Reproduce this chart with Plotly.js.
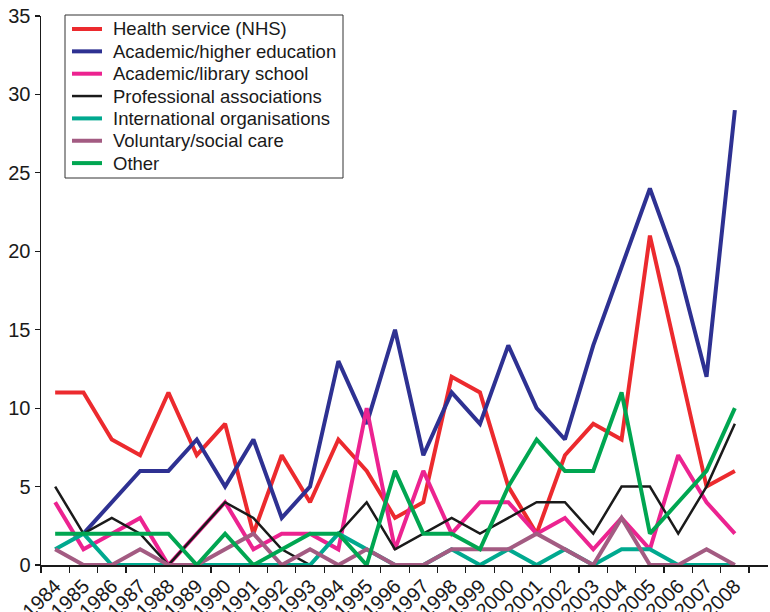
<!DOCTYPE html>
<html>
<head>
<meta charset="utf-8">
<script src="https://cdn.plot.ly/plotly-3.0.1.min.js"></script>
<style>html,body{margin:0;padding:0;background:#fff;}#chart{width:770px;height:612px;}</style>
</head>
<body>
<div id="chart"></div>
<script>
const years = [1984,1985,1986,1987,1988,1989,1990,1991,1992,1993,1994,1995,1996,1997,1998,1999,2000,2001,2002,2003,2004,2005,2006,2007,2008];
const tickLabels = years.map(String);

const healthNHS      = [11,11,8,7,11,7,9,2,7,4,8,6,3,4,12,11,5,2,7,9,8,21,13,5,6];
const academicHigher = [null,2,4,6,6,8,5,8,3,5,13,9,15,7,11,9,14,10,8,14,19,24,19,12,29];
const libSchool      = [4,1,2,3,0,2,4,1,2,2,1,10,1,6,2,4,4,2,3,1,3,1,7,4,2];
const professional   = [5,2,3,2,0,2,4,3,1,0,2,4,1,2,3,2,3,4,4,2,5,5,2,5,9];
const international  = [1,2,0,0,0,0,0,0,0,0,2,1,0,0,1,0,1,0,1,0,1,1,0,0,0];
const voluntary      = [1,0,0,1,0,0,1,2,0,1,0,1,0,0,1,1,1,2,1,0,3,0,0,1,0];
const other          = [2,2,2,2,2,0,2,0,1,2,2,0,6,2,2,1,5,8,6,6,11,2,4,6,10];

const seriesNames = ["Health service (NHS)","Academic/higher education","Academic/library school","Professional associations","International organisations","Voluntary/social care","Other"];
const seriesData = [healthNHS, academicHigher, libSchool, professional, international, voluntary, other];
const seriesColors = ["#ec2a2e","#2e3192","#ec2390","#1a1a1a","#00a98f","#a35b82","#00a651"];
const seriesWidths = [4,4,4,2.5,4,4,4];

const traces = seriesNames.map((n,i)=>({
  x: years, y: seriesData[i], name: n, type: 'scatter', mode: 'lines',
  line: {color: seriesColors[i], width: seriesWidths[i]},
  connectgaps: false, showlegend: false
}));

// Custom legend box (paper coordinates) to match the compact row spacing
const PW = 727, PH = 549, L = 41, B = 565;
const px = v => (v - L) / PW;
const py = v => (B - v) / PH;
const shapes = [{
  type: 'rect', xref: 'paper', yref: 'paper',
  x0: px(65), x1: px(343), y0: py(178), y1: py(15),
  line: {color: '#333', width: 1}, fillcolor: '#fff', layer: 'below'
}];
const annotations = [];
seriesNames.forEach((n,i)=>{
  const yc = 29 + 22.35 * i;
  shapes.push({type: 'line', xref: 'paper', yref: 'paper',
    x0: px(72), x1: px(102), y0: py(yc), y1: py(yc),
    line: {color: seriesColors[i], width: seriesWidths[i]}});
  annotations.push({xref: 'paper', yref: 'paper', x: px(111), y: py(yc),
    xanchor: 'left', yanchor: 'middle', showarrow: false, text: n,
    font: {size: 18.5, color: '#1a1a1a'}});
});

const layout = {
  width: 770, height: 612,
  margin: {l: 41, r: 2, t: 16, b: 47},
  paper_bgcolor: '#fff', plot_bgcolor: 'rgba(0,0,0,0)',
  font: {family: 'Liberation Sans, Arial, sans-serif', color: '#1a1a1a'},
  showlegend: false,
  shapes: shapes,
  annotations: annotations,
  xaxis: {
    range: [1983.5, 2009.17],
    tickmode: 'array', tickvals: years, ticktext: tickLabels,
    ticks: '', tickangle: -45, tickfont: {size: 20},
    showline: true, linecolor: '#1a1a1a', linewidth: 1.5,
    showgrid: false, zeroline: false,
    minor: {tick0: 1983.5, dtick: 1, ticks: 'outside', ticklen: 6, tickcolor: '#1a1a1a', tickwidth: 1.2, showgrid: false}
  },
  yaxis: {
    range: [0, 35], dtick: 5, tick0: 0,
    ticks: 'outside', ticklen: 5, tickcolor: '#1a1a1a', tickwidth: 1.2,
    tickfont: {size: 20},
    showline: true, linecolor: '#1a1a1a', linewidth: 1.5,
    showgrid: false, zeroline: false
  }
};

Plotly.newPlot('chart', traces, layout, {displayModeBar: false, staticPlot: true});
</script>
</body>
</html>
